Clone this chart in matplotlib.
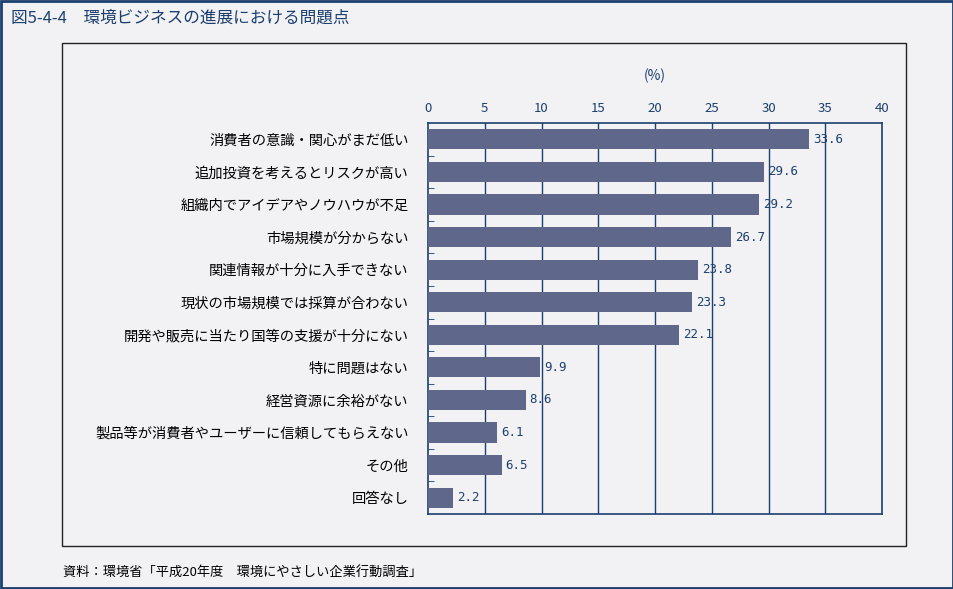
import matplotlib
matplotlib.use('Agg')
import matplotlib.pyplot as plt
from matplotlib.patches import Rectangle

plt.rcParams['font.family'] = ['Noto Sans CJK JP', 'DejaVu Sans']

# data
categories = [
    '消費者の意識・関心がまだ低い',
    '追加投資を考えるとリスクが高い',
    '組織内でアイデアやノウハウが不足',
    '市場規模が分からない',
    '関連情報が十分に入手できない',
    '現状の市場規模では採算が合わない',
    '開発や販売に当たり国等の支援が十分にない',
    '特に問題はない',
    '経営資源に余裕がない',
    '製品等が消費者やユーザーに信頼してもらえない',
    'その他',
    '回答なし',
]
values = [33.6, 29.6, 29.2, 26.7, 23.8, 23.3, 22.1, 9.9, 8.6, 6.1, 6.5, 2.2]
xticks = [0, 5, 10, 15, 20, 25, 30, 35, 40]

bg = '#f2f2f4'
navy = '#1b3f6e'
bar_color = '#5f678b'

W, H = 954, 589
fig = plt.figure(figsize=(W / 100, H / 100), dpi=100, facecolor=bg)

# outer border and inner panel
fig.patches.append(Rectangle((1 / W, 1 / H), 1 - 2 / W, 1 - 2 / H, transform=fig.transFigure,
                             fill=False, edgecolor=navy, linewidth=2))
fig.patches.append(Rectangle((62 / W, 1 - 546 / H), (906 - 62) / W, (546 - 43) / H,
                             transform=fig.transFigure, fill=False, edgecolor='#222222', linewidth=1))

fig.text(11 / W, 1 - 18 / H, '図5-4-4　環境ビジネスの進展における問題点', color=navy,
         fontsize=12, va='center', ha='left')
fig.text(63 / W, 1 - 572 / H, '資料：環境省「平成20年度　環境にやさしい企業行動調査」', color='black',
         fontsize=9.5, va='center', ha='left')

ax = fig.add_axes([428 / W, 1 - 514 / H, (882 - 428) / W, (514 - 123) / H])
ax.set_facecolor(bg)

y = list(range(len(categories)))
ax.barh(y, values, height=0.62, color=bar_color, zorder=3)
for yi, v in zip(y, values):
    ax.text(v + 0.35, yi, f'{v:.1f}', color=navy, fontsize=9, va='center', ha='left', zorder=4,
            family='DejaVu Sans Mono')

ax.set_xlim(0, 40)
ax.set_ylim(len(categories) - 0.5, -0.5)
ax.set_xticks(xticks)
ax.xaxis.tick_top()
ax.tick_params(axis='x', length=0, pad=6, labelsize=9.5, labelcolor=navy)
for t in xticks[1:-1]:
    ax.axvline(t, color=navy, linewidth=1, zorder=2)

ax.set_yticks(y)
ax.set_yticklabels(categories, fontsize=10.3)
ax.set_yticks([i + 0.5 for i in y[:-1]], minor=True)
ax.tick_params(axis='y', which='major', length=0, pad=14)
ax.tick_params(axis='y', which='minor', direction='in', length=4, color=navy)
for s in ax.spines.values():
    s.set_color(navy)
    s.set_linewidth(1.2)

fig.text(655 / W, 1 - 76 / H, '(%)', color=navy, fontsize=10, ha='center', va='center')

fig.savefig('out.png', dpi=100, facecolor=bg)
